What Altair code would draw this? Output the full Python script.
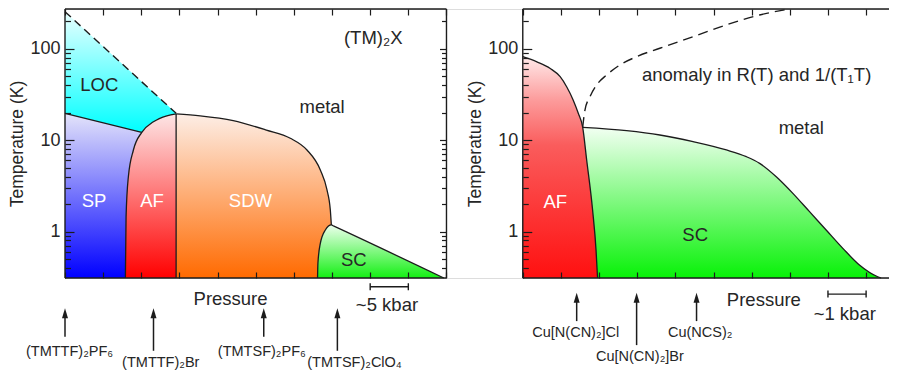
import altair as alt
import pandas as pd

FONT = "Liberation Sans"
INK = "#1c1c1c"
TXT = "#262626"

# ---------------- scales ----------------
Y_DOMAIN = [0.31, 273]          # temperature (K), log
X_DOMAIN = [0, 21.6]            # shared pressure axis (arbitrary units)
RIGHT_ORIGIN = 12.0             # pressure origin of right panel on shared axis
W, H = 824, 269

# ---------------- left panel: (TM)2X ----------------
LOC_P = [0, 2.013, 2.913]
LOC_TOP = [255, 43.6, 19.7]
LOC_BOT = [19.7, 12.2, 19.4]

SP_P = [0, 2.013]
SP_T = [19.7, 12.2]

AF_L_P = [1.583, 1.601, 1.661, 1.793, 2.013, 2.318, 2.669, 2.913]
AF_L_T = [0.31, 1.45, 3.98, 7.81, 12.2, 15.9, 18.5, 19.4]

SDW_P = [2.913, 3.543, 4.41, 5.28, 5.906, 6.343, 6.693, 6.868, 6.955, 6.982]
SDW_T = [19.4, 18.5, 16.4, 12.9, 10.5, 7.81, 4.72, 2.85, 1.72, 1.18]

SC_L_P = [6.62, 6.63, 6.693, 6.824, 6.982, 7.05, 9.93]
SC_L_T = [0.31, 0.449, 0.743, 1.04, 1.18, 1.145, 0.31]

AF_SDW_P = [2.913, 2.913]
AF_SDW_T = [0.31, 19.4]

LOC_DASH_P = [0, 2.913]
LOC_DASH_T = [255, 19.7]

# ---------------- right panel: kappa-(BEDT-TTF)2X ----------------
RSC_P = [1.57, 2.721, 3.592, 4.464, 5.338, 5.861, 6.209, 6.645, 7.08, 7.517, 7.953, 8.39, 8.825, 9.304, 9.393]
RSC_T = [13.8, 12.7, 11.4, 9.63, 7.81, 6.60, 5.58, 3.98, 2.62, 1.65, 1.04, 0.655, 0.43, 0.32, 0.31]

RAF_P = [0, 0.37, 0.72, 0.98, 1.15, 1.32, 1.455, 1.57, 1.675, 1.83, 1.92, 1.96]
RAF_T = [82, 72, 61, 49.6, 38.5, 27.6, 19.7, 13.9, 6.07, 1.72, 0.63, 0.31]

RDASH_P = [1.57, 1.63, 1.761, 1.936, 2.198, 2.546, 2.983, 3.592, 4.464, 5.338, 6.209, 6.99]
RDASH_T = [13.9, 21.4, 29.9, 40.2, 51.8, 66.6, 82.1, 101.5, 136, 183, 235, 273]

# ---------------- labels ----------------
L_TEXT = ["LOC", "metal", "(TM)₂X", "SC"]
L_TEXT_P = [0.90, 6.74, 8.08, 7.57]
L_TEXT_T = [40.2, 23.3, 131, 0.488]

L_WTEXT = ["SP", "AF", "SDW"]
L_WTEXT_P = [0.76, 2.28, 4.86]
L_WTEXT_T = [2.16, 2.16, 2.16]

R_TEXT = ["anomaly in R(T) and 1/(T₁T)", "metal", "SC"]
R_TEXT_P = [6.13, 7.30, 4.52]
R_TEXT_T = [51.8, 13.5, 0.916]

R_WTEXT = ["AF"]
R_WTEXT_P = [0.85]
R_WTEXT_T = [2.12]

# below-axis annotations (temperature values below the plotted range)
L_COMPOUNDS = ["(TMTTF)₂PF₆", "(TMTTF)₂Br", "(TMTSF)₂PF₆", "(TMTSF)₂ClO₄"]
L_COMP_P = [0.12, 2.51, 5.16, 7.59]
L_COMP_T = [0.0483, 0.0366, 0.0483, 0.0366]
L_ARROW_P = [0, 2.32, 5.21, 7.14]
L_ARROW_HEAD_T = [0.1271, 0.1271, 0.1271, 0.1271]
L_ARROW_END_T = [0.0705, 0.0495, 0.0705, 0.0495]

R_COMPOUNDS = ["Cu[N(CN)₂]Cl", "Cu[N(CN)₂]Br", "Cu(NCS)₂"]
R_COMP_P = [1.39, 3.07, 4.65]
R_COMP_T = [0.0767, 0.0419, 0.0767]
R_ARROW_P = [1.413, 2.984, 4.555]
R_ARROW_HEAD_T = [0.1883, 0.1883, 0.1883]
R_ARROW_END_T = [0.1046, 0.0571, 0.1046]

PRESSURE_P = [4.34, 6.32]            # left, right
PRESSURE_T = [0.1823, 0.1777]
SCALE_TEXT = ["~5 kbar", "~1 kbar"]
SCALE_TEXT_P = [8.44, 8.44]
SCALE_TEXT_T = [0.1567, 0.1239]
SCALE_BAR_P = [(8, 9), (8, 9)]
SCALE_BAR_T = [0.2485, 0.2067]
SCALE_CAP_T = [(0.2716, 0.2276), (0.2258, 0.1893)]

# ---------------- ticks ----------------
LEFT_X_TICKS = list(range(0, 11))
RIGHT_X_TICKS = list(range(0, 10))
Y_MAJOR = [1, 10, 100]
Y_MINOR = [0.4, 0.5, 0.6, 0.7, 0.8, 0.9, 2, 3, 4, 5, 6, 7, 8, 9,
           20, 30, 40, 50, 60, 70, 80, 90, 200]

R = RIGHT_ORIGIN


def xsc():
    return alt.Scale(domain=X_DOMAIN, nice=False, zero=False)


def ysc():
    return alt.Scale(type="log", domain=Y_DOMAIN, nice=False)


def X(field="x", axis=None):
    return alt.X(f"{field}:Q", scale=xsc(), axis=axis)


def Y(field="y", axis=None):
    return alt.Y(f"{field}:Q", scale=ysc(), axis=axis)


def grad(stops):
    return alt.Gradient(
        gradient="linear",
        stops=[alt.GradientStop(offset=o, color=c) for o, c in stops],
        x1=0, x2=0, y1=0, y2=1,
    )


def area(ps, tops, bots, stops):
    d = pd.DataFrame({"x": ps, "y": tops, "y2": bots})
    return alt.Chart(d).mark_area(interpolate="monotone", color=grad(stops), opacity=1).encode(
        x=X(), y=Y(), y2="y2:Q")


bottom = Y_DOMAIN[0]
layers = []

# ---- filled regions (left)
layers.append(area(LOC_P, LOC_TOP, LOC_BOT, [(0, "#eaffff"), (1, "#00ffff")]))
layers.append(area(SP_P, SP_T, [bottom] * len(SP_P), [(0, "#e4e4fa"), (1, "#0000ff")]))
layers.append(area(AF_L_P, AF_L_T, [bottom] * len(AF_L_P), [(0, "#fde6e6"), (1, "#ff0000")]))
layers.append(area(SDW_P, SDW_T, [bottom] * len(SDW_P), [(0, "#fdeee6"), (1, "#ff6a00")]))
layers.append(area(SC_L_P, SC_L_T, [bottom] * len(SC_L_P), [(0, "#ecffec"), (1, "#14f014")]))
# ---- filled regions (right)
layers.append(area([p + R for p in RSC_P], RSC_T, [bottom] * len(RSC_P),
                   [(0, "#f2fff2"), (1, "#08f208")]))
layers.append(area([p + R for p in RAF_P], RAF_T, [bottom] * len(RAF_P),
                   [(0, "#ffe9e9"), (0.2, "#fc9a9a"), (0.4, "#fa5c5c"), (1, "#ff1010")]))

# ---- solid outlines
segs = [
    ("sp", SP_P, SP_T), ("afdome", AF_L_P, AF_L_T), ("afsdw", AF_SDW_P, AF_SDW_T),
    ("sdw", SDW_P, SDW_T), ("sc", SC_L_P, SC_L_T),
    ("rsc", [p + R for p in RSC_P], RSC_T), ("raf", [p + R for p in RAF_P], RAF_T),
]
rows = []
for name, ps, ts in segs:
    for i, (p, t) in enumerate(zip(ps, ts)):
        rows.append({"seg": name, "x": p, "y": t, "i": i})
lines_df = pd.DataFrame(rows)
layers.append(alt.Chart(lines_df).mark_line(interpolate="monotone", color=INK, strokeWidth=1.3).encode(
    x=X(), y=Y(), detail="seg:N", order="i:Q"))

# ---- dashed lines
layers.append(alt.Chart(pd.DataFrame({"x": LOC_DASH_P, "y": LOC_DASH_T})).mark_line(
    color=INK, strokeWidth=1.4, strokeDash=[8, 5]).encode(x=X(), y=Y()))
layers.append(alt.Chart(pd.DataFrame({"x": [p + R for p in RDASH_P], "y": RDASH_T})).mark_line(
    interpolate="monotone", color=INK, strokeWidth=1.4, strokeDash=[10, 6]).encode(x=X(), y=Y()))

# ---- frames (at the domain edges)
ymin, ymax = Y_DOMAIN
frame_v = pd.DataFrame({"x": [0, 10, R], "y": [ymin] * 3, "y2": [ymax] * 3})
frame_h = pd.DataFrame({"x": [0, 0, R, R], "x2": [10, 10, X_DOMAIN[1], X_DOMAIN[1]],
                        "y": [ymin, ymax, ymin, ymax]})
layers.append(alt.Chart(frame_v).mark_rule(color=INK, strokeWidth=1.4).encode(x=X(), y=Y(), y2="y2:Q"))
layers.append(alt.Chart(frame_h).mark_rule(color=INK, strokeWidth=1.4).encode(x=X(), x2="x2:Q", y=Y()))


# ---- texts inside plots
def text_layer(labels, ps, ts, color, size):
    d = pd.DataFrame({"x": ps, "y": ts, "t": labels})
    return alt.Chart(d).mark_text(font=FONT, fontSize=size, color=color, align="center",
                                  baseline="middle").encode(x=X(), y=Y(), text="t:N")


layers.append(text_layer(L_TEXT, L_TEXT_P, L_TEXT_T, TXT, 18.5))
layers.append(text_layer(L_WTEXT, L_WTEXT_P, L_WTEXT_T, "white", 18.5))
layers.append(text_layer(R_TEXT, [p + R for p in R_TEXT_P], R_TEXT_T, TXT, 18.5))
layers.append(text_layer(R_WTEXT, [p + R for p in R_WTEXT_P], R_WTEXT_T, "white", 18.5))

# ---- below-axis annotations
layers.append(text_layer(L_COMPOUNDS, L_COMP_P, L_COMP_T, TXT, 14.5))
layers.append(text_layer(R_COMPOUNDS, [p + R for p in R_COMP_P], R_COMP_T, TXT, 14.5))
layers.append(text_layer(["Pressure", "Pressure"], [PRESSURE_P[0], PRESSURE_P[1] + R], PRESSURE_T, TXT, 18.5))
layers.append(text_layer(SCALE_TEXT, [SCALE_TEXT_P[0], SCALE_TEXT_P[1] + R], SCALE_TEXT_T, TXT, 18.5))

arrows = pd.DataFrame({
    "x": L_ARROW_P + [p + R for p in R_ARROW_P],
    "y": L_ARROW_HEAD_T + R_ARROW_HEAD_T,
    "y2": L_ARROW_END_T + R_ARROW_END_T,
})
layers.append(alt.Chart(arrows).mark_rule(color=INK, strokeWidth=1.5).encode(x=X(), y=Y(), y2="y2:Q"))
layers.append(alt.Chart(arrows).mark_point(shape="M0,-1L0.6,1L-0.6,1Z", size=100, filled=True,
                                           color=INK, opacity=1, strokeWidth=0).encode(x=X(), y=Y()))

bars = pd.DataFrame({
    "x": [SCALE_BAR_P[0][0], SCALE_BAR_P[1][0] + R],
    "x2": [SCALE_BAR_P[0][1], SCALE_BAR_P[1][1] + R],
    "y": SCALE_BAR_T,
})
layers.append(alt.Chart(bars).mark_rule(color=INK, strokeWidth=1.4).encode(x=X(), x2="x2:Q", y=Y()))
caps = pd.DataFrame({
    "x": [SCALE_BAR_P[0][0], SCALE_BAR_P[0][1], SCALE_BAR_P[1][0] + R, SCALE_BAR_P[1][1] + R],
    "y": [SCALE_CAP_T[0][0], SCALE_CAP_T[0][0], SCALE_CAP_T[1][0], SCALE_CAP_T[1][0]],
    "y2": [SCALE_CAP_T[0][1], SCALE_CAP_T[0][1], SCALE_CAP_T[1][1], SCALE_CAP_T[1][1]],
})
layers.append(alt.Chart(caps).mark_rule(color=INK, strokeWidth=1.4).encode(x=X(), y=Y(), y2="y2:Q"))

# ---- axes (labels, titles and inward ticks); offsets move an axis across the plot
px_per_unit = W / (X_DOMAIN[1] - X_DOMAIN[0])
LEFT_RIGHT_EDGE_PX = 10 * px_per_unit
RIGHT_ORIGIN_PX = R * px_per_unit

tick_common = dict(grid=False, domain=False, labels=False, title=None, tickColor=INK,
                   tickWidth=1.2, zindex=2)


def yaxis_layer(axis):
    return alt.Chart(pd.DataFrame({"y": Y_DOMAIN})).mark_point(opacity=0).encode(y=Y(axis=axis))


def xaxis_layer(axis):
    return alt.Chart(pd.DataFrame({"x": X_DOMAIN})).mark_point(opacity=0).encode(x=X(axis=axis))


label_common = dict(values=Y_MAJOR, ticks=False, tickSize=0, domain=False, grid=False,
                    labelExpr="format(datum.value, 'd')", labelFont=FONT, labelFontSize=18,
                    labelColor=TXT, labelPadding=5, title="Temperature (K)", titleFont=FONT,
                    titleFontSize=17.5, titleFontWeight="normal", titleColor=TXT, titlePadding=3)

layers.append(yaxis_layer(alt.Axis(orient="left", **label_common)))
layers.append(yaxis_layer(alt.Axis(orient="left", offset=-RIGHT_ORIGIN_PX, **label_common)))

# left panel, left side
layers.append(yaxis_layer(alt.Axis(orient="left", values=Y_MAJOR, tickSize=9, offset=-9, **tick_common)))
layers.append(yaxis_layer(alt.Axis(orient="left", values=Y_MINOR, tickSize=5.5, offset=-5.5, **tick_common)))
# left panel, right side
layers.append(yaxis_layer(alt.Axis(orient="right", values=Y_MAJOR, tickSize=7,
                                   offset=-(W - LEFT_RIGHT_EDGE_PX + 7), **tick_common)))
layers.append(yaxis_layer(alt.Axis(orient="right", values=Y_MINOR, tickSize=5,
                                   offset=-(W - LEFT_RIGHT_EDGE_PX + 5), **tick_common)))
# right panel, left side
layers.append(yaxis_layer(alt.Axis(orient="left", values=Y_MAJOR, tickSize=9,
                                   offset=-(RIGHT_ORIGIN_PX + 9), **tick_common)))
layers.append(yaxis_layer(alt.Axis(orient="left", values=Y_MINOR, tickSize=5.5,
                                   offset=-(RIGHT_ORIGIN_PX + 5.5), **tick_common)))

X_TICKS = LEFT_X_TICKS + [t + R for t in RIGHT_X_TICKS]
layers.append(xaxis_layer(alt.Axis(orient="bottom", values=X_TICKS, tickSize=6, offset=-6, **tick_common)))
layers.append(xaxis_layer(alt.Axis(orient="top", values=X_TICKS, tickSize=6, offset=-6, **tick_common)))

chart = alt.layer(*layers).properties(
    width=W, height=H,
    autosize=alt.AutoSizeParams(type="none"),
    padding={"left": 57, "top": 1, "right": 0, "bottom": 92},
).resolve_axis(x="independent", y="independent").configure_view(stroke=None).configure(
    font=FONT, background="white")

chart.save("out.html", embed_options={"renderer": "svg", "actions": False})
